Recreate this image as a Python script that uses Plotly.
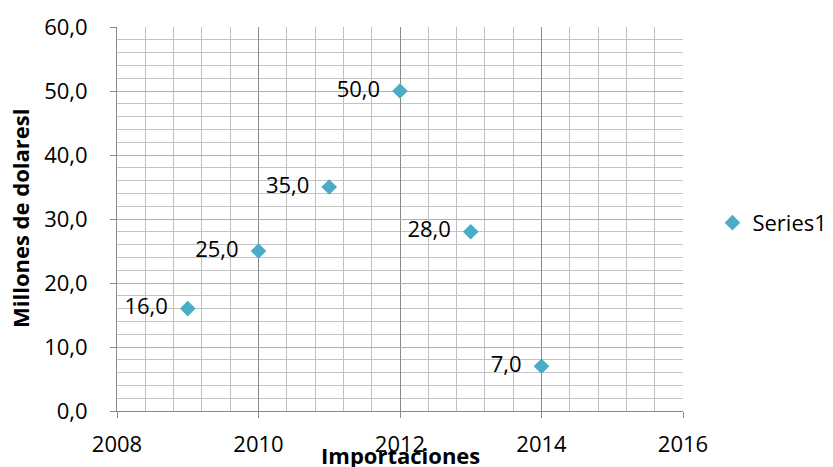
import plotly.graph_objects as go

years = [2009, 2010, 2011, 2012, 2013, 2014]
values = [16.0, 25.0, 35.0, 50.0, 28.0, 7.0]
series_name = "Series1"
x_title = "Importaciones"
y_title = "Millones de dolaresl"

FONT = "Open Sans"
FS = 22
fig = go.Figure()
fig.add_trace(go.Scatter(
    x=years, y=values, mode="markers+text", name=series_name,
    marker=dict(symbol="diamond", size=12, color="#4BACC6"),
    texttemplate="%{y:.1f}  ", textposition="middle left",
    textfont=dict(size=FS, color="#000000", family=FONT),
    showlegend=True,
))
fig.update_layout(
    width=833, height=467,
    margin=dict(l=117, r=150, t=27, b=56, autoexpand=False),
    paper_bgcolor="white", plot_bgcolor="white",
    separators=",.",
    font=dict(family=FONT, size=FS, color="#000000"),
    legend=dict(x=1.052, y=0.49, yanchor="middle", xanchor="left",
                font=dict(size=FS, family=FONT), itemsizing="constant",
                itemwidth=30),
    xaxis=dict(
        range=[2008, 2016], dtick=2, tick0=2008, tickformat="d",
        showgrid=True, gridcolor="#8a8a8a", gridwidth=1,
        minor=dict(dtick=0.4, showgrid=True, gridcolor="#c0c0c0", gridwidth=1),
        showline=True, linecolor="#8a8a8a", linewidth=1,
        ticks="outside", ticklen=6, tickcolor="#8a8a8a",
        ticklabelstandoff=8,
        zeroline=False, automargin=False,
    ),
    yaxis=dict(
        range=[0, 60], dtick=10, tickformat=".1f",
        showgrid=True, gridcolor="#b0b0b0", gridwidth=1,
        minor=dict(dtick=2, showgrid=True, gridcolor="#c4c4c4", gridwidth=1),
        showline=True, linecolor="#8a8a8a", linewidth=1,
        ticks="outside", ticklen=6, tickcolor="#8a8a8a",
        ticklabelstandoff=18,
        zeroline=False, automargin=False,
    ),
    annotations=[
        dict(text=f"<b>{x_title}</b>", xref="paper", yref="paper",
             x=0.5, y=0.0, yshift=-44, xanchor="center", yanchor="middle",
             showarrow=False, font=dict(size=22, family=FONT)),
        dict(text=f"<b>{y_title}</b>", xref="paper", yref="paper",
             x=0, xshift=-97, y=0.5, xanchor="center", yanchor="middle",
             textangle=-90, showarrow=False, font=dict(size=22, family=FONT)),
    ],
)
fig.write_html("out.html", config={"displayModeBar": False},
               post_script="document.body.style.margin='0';")
